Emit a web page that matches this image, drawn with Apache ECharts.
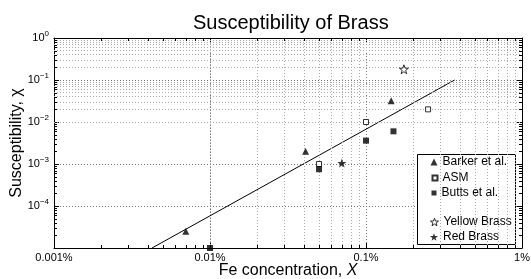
<!DOCTYPE html>
<html>
<head>
<meta charset="utf-8">
<script src="https://cdn.jsdelivr.net/npm/echarts@6/dist/echarts.min.js"></script>
<style>
  html, body { margin: 0; padding: 0; background: #fff; }
  #chart { width: 531px; height: 279px; }
</style>
</head>
<body>
<div id="chart"></div>
<script>
const FONT = '"Liberation Sans", Arial, Helvetica, sans-serif';

// Fe concentration in %, susceptibility (dimensionless)
const barkerX = [0.007, 0.041, 0.145];
const barkerY = [2.5e-5, 2.0e-3, 3.2e-2];
const asmX = [0.05, 0.1, 0.25];
const asmY = [1.0e-3, 1.0e-2, 2.0e-2];
const buttsX = [0.01, 0.05, 0.1, 0.15];
const buttsY = [1.0e-5, 7.5e-4, 3.6e-3, 6.0e-3];
const yellowX = [0.175];
const yellowY = [0.18];
const redX = [0.07];
const redY = [1.05e-3];
const fitX = [0.00425, 0.37];
const fitY = [1e-5, 0.1];

const xDecades = [0.001, 0.01, 0.1];
const yDecades = [1e-5, 1e-4, 1e-3, 1e-2, 1e-1];

const STAR = 'path://M0,-10L2.35,-3.24L9.51,-3.09L3.8,1.24L5.88,8.09L0,4L-5.88,8.09L-3.8,1.24L-9.51,-3.09L-2.35,-3.24Z';

const zip = (xs, ys) => xs.map((x, i) => [x, ys[i]]);

// minor grid / minor ticks at 2..9 of each decade
const minorXVals = [], minorYVals = [];
xDecades.forEach(d => { for (let k = 2; k <= 9; k++) minorXVals.push(d * k); });
yDecades.forEach(d => { for (let k = 2; k <= 9; k++) minorYVals.push(d * k); });

const chart = echarts.init(document.getElementById('chart'), null, { renderer: 'canvas' });

const frameAxis = {
  axisLine: { lineStyle: { color: '#000', width: 1 } },
  axisTick: { inside: true, length: 5, lineStyle: { color: '#000' } },
};

const supLabel = (v) => {
  const e = Math.round(Math.log10(v));
  if (e === -5) return '';
  return '{b|10}{s|' + (e < 0 ? '\u2212' + (-e) : e) + '}';
};

// one legend per entry so each icon keeps its own size and the gap before the brasses
const legendItem = (name, top, size, icon, style) => ({
  data: [icon ? { name: name, icon: icon, itemStyle: style } : name],
  orient: 'vertical',
  left: 434 - size / 2,
  top: top,
  padding: 0,
  itemWidth: size, itemHeight: size,
  textStyle: { fontFamily: FONT, fontSize: 12, color: '#000' },
  selectedMode: false,
});

// short inward minor ticks on all four sides of the box
const minorTicks = (vals, horizontal) => ({
  type: 'custom', silent: true, z: 6, clip: false,
  data: vals.map(v => horizontal ? [v, 1e-5] : [0.001, v]),
  renderItem: (params, api) => {
    const cs = params.coordSys;
    const p = api.coord([api.value(0), api.value(1)]);
    const st = { stroke: '#000', lineWidth: 1 };
    if (horizontal) {
      const x = Math.round(p[0]) + 0.5;
      return { type: 'group', children: [
        { type: 'line', shape: { x1: x, y1: cs.y + cs.height, x2: x, y2: cs.y + cs.height - 3 }, style: st },
        { type: 'line', shape: { x1: x, y1: cs.y, x2: x, y2: cs.y + 3 }, style: st },
      ] };
    }
    const y = Math.round(p[1]) + 0.5;
    return { type: 'group', children: [
      { type: 'line', shape: { x1: cs.x, y1: y, x2: cs.x + 3, y2: y }, style: st },
      { type: 'line', shape: { x1: cs.x + cs.width, y1: y, x2: cs.x + cs.width - 3, y2: y }, style: st },
    ] };
  },
});

chart.setOption({
  animation: false,
  backgroundColor: '#fff',
  title: {
    text: 'Susceptibility of Brass',
    left: 188,
    top: 8,
    textStyle: { fontFamily: FONT, fontSize: 20, fontWeight: 'normal', color: '#000' },
  },
  grid: { left: 54, right: 9, top: 38, bottom: 31, containLabel: false, outerBoundsMode: 'none' },
  xAxis: [
    {
      type: 'log', logBase: 10, min: 0.001, max: 1,
      ...frameAxis,
      axisLabel: {
        fontFamily: FONT, fontSize: 11, color: '#000', margin: 4,
        formatter: (v) => v + '%',
      },
      splitLine: { show: true, lineStyle: { color: '#777', type: [1, 2], width: 1 } },
      name: '{n|Fe concentration, }{i|X}',
      nameLocation: 'middle',
      nameGap: 15,
      nameMoveOverlap: false,
      nameTextStyle: {
        fontFamily: FONT, fontSize: 16, color: '#000', lineHeight: 16,
        verticalAlign: 'top',
        rich: {
          n: { fontFamily: FONT, fontSize: 16, color: '#000', lineHeight: 16 },
          i: { fontFamily: FONT, fontSize: 16, color: '#000', lineHeight: 16, fontStyle: 'italic' },
        },
      },
    },
    {
      type: 'log', logBase: 10, min: 0.001, max: 1, position: 'top',
      ...frameAxis,
      axisLabel: { show: false },
      splitLine: { show: false },
    },
  ],
  yAxis: [
    {
      type: 'log', logBase: 10, min: 1e-5, max: 1,
      ...frameAxis,
      axisLabel: {
        color: '#000', margin: 5,
        formatter: supLabel,
        rich: {
          b: { fontFamily: FONT, fontSize: 11, color: '#000' },
          s: { fontFamily: FONT, fontSize: 8, color: '#000', padding: [0, 0, 8, 0] },
        },
      },
      splitLine: { show: true, lineStyle: { color: '#777', type: [1, 2], width: 1 } },
      name: 'Susceptibility, \u03c7',
      nameLocation: 'middle',
      nameGap: 29,
      nameMoveOverlap: false,
      nameTextStyle: { fontFamily: FONT, fontSize: 16, color: '#000' },
    },
    {
      type: 'log', logBase: 10, min: 1e-5, max: 1, position: 'right',
      ...frameAxis,
      axisLabel: { show: false },
      splitLine: { show: false },
    },
  ],
  legend: [
    legendItem('Barker et al.', 156, 7),
    legendItem('ASM', 172, 5),
    legendItem('Butts et al.', 187, 5),
    legendItem('Yellow Brass', 216, 8, STAR, { color: '#fff', borderColor: '#000', borderWidth: 1 }),
    legendItem('Red Brass', 231, 8, STAR, { color: '#000', borderWidth: 0 }),
  ],
  graphic: [
    {
      type: 'rect', left: 417, top: 154, z: 3,
      shape: { width: 98, height: 90 },
      style: { fill: '#fff', stroke: '#000', lineWidth: 1 },
    },
  ],
  series: [
    {
      name: 'minor-grid', type: 'line', data: [], silent: true, z: 0,
      markLine: {
        symbol: 'none', silent: true, animation: false,
        label: { show: false },
        lineStyle: { color: '#aaa', type: [1, 2], width: 1 },
        data: minorXVals.map(v => ({ xAxis: v })).concat(minorYVals.map(v => ({ yAxis: v }))),
      },
    },
    minorTicks(minorXVals, true),
    minorTicks(minorYVals, false),
    {
      name: 'fit', type: 'line', data: zip(fitX, fitY),
      showSymbol: false, symbol: 'none', silent: true, z: 4,
      lineStyle: { color: '#000', width: 1 },
    },
    {
      name: 'Barker et al.', type: 'scatter', data: zip(barkerX, barkerY),
      symbol: 'triangle', symbolSize: 7, z: 5,
      itemStyle: { color: '#000' },
    },
    {
      name: 'ASM', type: 'scatter', data: zip(asmX, asmY),
      symbol: 'rect', symbolSize: 5, z: 5,
      itemStyle: { color: '#fff', borderColor: '#000', borderWidth: 1 },
    },
    {
      name: 'Butts et al.', type: 'scatter', data: zip(buttsX, buttsY),
      symbol: 'rect', symbolSize: 6, z: 5,
      itemStyle: { color: '#000' },
    },
    {
      name: 'Yellow Brass', type: 'scatter', data: zip(yellowX, yellowY),
      symbol: STAR, symbolSize: 9, z: 5,
      itemStyle: { color: '#fff', borderColor: '#000', borderWidth: 1 },
    },
    {
      name: 'Red Brass', type: 'scatter', data: zip(redX, redY),
      symbol: STAR, symbolSize: 9, z: 5,
      itemStyle: { color: '#000' },
    },
  ],
});
</script>
</body>
</html>
